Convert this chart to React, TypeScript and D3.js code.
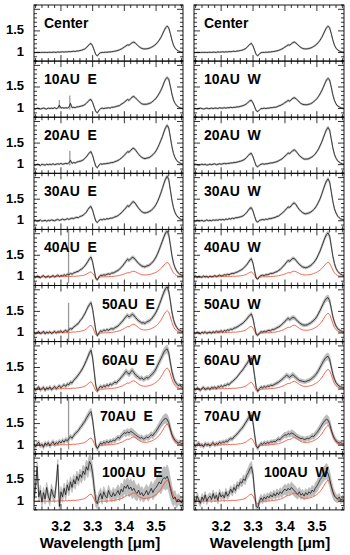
import React from "react";
import * as d3 from "d3";

// ---------- data ----------
const WL_START = 3.115;
const WL_STEP = 0.005;
const N_PTS = 95;
const WAVELENGTH: number[] = d3.range(N_PTS).map((i) => +(WL_START + i * WL_STEP).toFixed(3));

const X_MAJOR_TICKS = [3.2, 3.3, 3.4, 3.5];
const Y_LABEL_TICKS = [1, 1.5];

const CENTER = [
  1.0, 0.997, 1.002, 1.0, 0.998, 1.003, 1.0, 1.004, 0.999, 1.002,
  1.006, 1.0, 1.008, 1.004, 1.002, 1.012, 1.006, 1.01, 1.016, 1.008,
  1.018, 1.012, 1.022, 1.016, 1.024, 1.028, 1.022, 1.034, 1.036, 1.044,
  1.052, 1.066, 1.082, 1.11, 1.15, 1.19, 1.21, 1.15, 1.05, 0.95,
  0.92, 0.97, 0.995, 1.002, 1.0, 1.006, 1.004, 1.01, 1.012, 1.018,
  1.022, 1.03, 1.038, 1.048, 1.062, 1.08, 1.1, 1.125, 1.15, 1.175,
  1.17, 1.2, 1.23, 1.24, 1.215, 1.18, 1.145, 1.115, 1.095, 1.085,
  1.082, 1.085, 1.092, 1.102, 1.118, 1.14, 1.165, 1.195, 1.235, 1.285,
  1.345, 1.42, 1.5, 1.57, 1.61, 1.57, 1.44, 1.29, 1.17, 1.1,
  1.06, 1.035, 1.02, 1.01, 1.005,
];

const AU10_E = [
  1.0, 0.99, 1.01, 1.0, 0.99, 1.0, 1.01, 1.0, 0.99, 1.01,
  1.0, 1.01, 1.0, 1.02, 1.0, 1.01, 1.08, 1.01, 1.02, 1.01,
  1.02, 1.01, 1.03, 1.12, 1.02, 1.03, 1.02, 1.04, 1.04, 1.05,
  1.06, 1.07, 1.09, 1.12, 1.16, 1.2, 1.21, 1.14, 1.03, 0.93,
  0.9, 0.96, 1.0, 1.01, 1.0, 1.01, 1.01, 1.02, 1.01, 1.03,
  1.03, 1.04, 1.05, 1.06, 1.07, 1.1, 1.12, 1.15, 1.18, 1.21,
  1.19, 1.23, 1.27, 1.28, 1.25, 1.21, 1.17, 1.14, 1.11, 1.1,
  1.1, 1.1, 1.11, 1.12, 1.14, 1.17, 1.2, 1.24, 1.29, 1.35,
  1.42, 1.5, 1.6, 1.68, 1.72, 1.68, 1.52, 1.34, 1.2, 1.12,
  1.07, 1.04, 1.02, 1.01, 1.0,
];
const AU10_W = [
  1.0, 1.0, 0.99, 1.0, 1.01, 1.0, 0.99, 1.0, 1.01, 1.0,
  1.0, 1.01, 1.0, 1.01, 1.01, 1.0, 1.02, 1.01, 1.01, 1.02,
  1.01, 1.02, 1.02, 1.03, 1.02, 1.03, 1.03, 1.04, 1.04, 1.05,
  1.06, 1.07, 1.09, 1.11, 1.15, 1.18, 1.19, 1.13, 1.04, 0.95,
  0.93, 0.97, 1.0, 1.0, 1.01, 1.0, 1.01, 1.01, 1.02, 1.02,
  1.03, 1.03, 1.04, 1.06, 1.07, 1.09, 1.11, 1.14, 1.16, 1.19,
  1.17, 1.21, 1.24, 1.25, 1.23, 1.19, 1.15, 1.12, 1.1, 1.09,
  1.09, 1.09, 1.1, 1.11, 1.13, 1.16, 1.19, 1.23, 1.28, 1.34,
  1.41, 1.49, 1.58, 1.66, 1.7, 1.66, 1.5, 1.32, 1.19, 1.11,
  1.06, 1.04, 1.02, 1.01, 1.0,
];
const AU20_E = [
  1.0, 0.99, 1.01, 1.0, 0.98, 1.01, 1.0, 0.99, 1.01, 1.0,
  1.01, 1.0, 1.02, 1.0, 1.01, 1.02, 1.01, 1.03, 1.01, 1.02,
  1.03, 1.02, 1.04, 1.1, 1.03, 1.05, 1.04, 1.06, 1.07, 1.08,
  1.09, 1.11, 1.14, 1.18, 1.23, 1.28, 1.3, 1.21, 1.08, 0.96,
  0.93, 0.99, 1.02, 1.01, 1.02, 1.02, 1.03, 1.03, 1.04, 1.05,
  1.05, 1.07, 1.08, 1.1, 1.12, 1.15, 1.18, 1.22, 1.26, 1.3,
  1.29, 1.33, 1.37, 1.38, 1.34, 1.29, 1.24, 1.2, 1.17, 1.15,
  1.14, 1.15, 1.16, 1.17, 1.2, 1.23, 1.27, 1.32, 1.39, 1.47,
  1.56, 1.65, 1.76, 1.86, 1.91, 1.85, 1.64, 1.42, 1.26, 1.16,
  1.1, 1.06, 1.04, 1.02, 1.01,
];
const AU20_W = [
  1.0, 1.01, 1.0, 0.99, 1.0, 1.01, 1.0, 1.01, 0.99, 1.0,
  1.01, 1.0, 1.01, 1.02, 1.0, 1.01, 1.02, 1.01, 1.02, 1.03,
  1.02, 1.03, 1.03, 1.04, 1.04, 1.05, 1.05, 1.06, 1.07, 1.08,
  1.09, 1.11, 1.13, 1.17, 1.21, 1.25, 1.26, 1.18, 1.07, 0.97,
  0.95, 0.99, 1.01, 1.02, 1.01, 1.02, 1.02, 1.03, 1.04, 1.04,
  1.05, 1.06, 1.07, 1.09, 1.11, 1.13, 1.16, 1.2, 1.23, 1.27,
  1.26, 1.29, 1.33, 1.34, 1.31, 1.26, 1.21, 1.18, 1.15, 1.13,
  1.13, 1.13, 1.14, 1.16, 1.18, 1.21, 1.25, 1.3, 1.36, 1.44,
  1.52, 1.62, 1.72, 1.81, 1.86, 1.8, 1.6, 1.39, 1.24, 1.15,
  1.09, 1.06, 1.03, 1.02, 1.01,
];
const AU30_E = [
  1.0, 1.01, 0.99, 1.0, 1.02, 0.99, 1.0, 1.01, 0.99, 1.01,
  1.0, 1.02, 1.01, 1.0, 1.02, 1.03, 1.01, 1.02, 1.04, 1.02,
  1.03, 1.05, 1.03, 1.05, 1.06, 1.05, 1.07, 1.08, 1.07, 1.1,
  1.11, 1.13, 1.16, 1.2, 1.26, 1.31, 1.33, 1.24, 1.11, 0.99,
  0.96, 1.01, 1.03, 1.02, 1.04, 1.03, 1.05, 1.04, 1.06, 1.06,
  1.07, 1.09, 1.1, 1.12, 1.15, 1.18, 1.22, 1.26, 1.3, 1.35,
  1.33, 1.38, 1.43, 1.44, 1.4, 1.34, 1.29, 1.25, 1.21, 1.19,
  1.18, 1.19, 1.2, 1.22, 1.24, 1.28, 1.32, 1.38, 1.45, 1.54,
  1.64, 1.75, 1.87, 1.97, 2.03, 1.96, 1.72, 1.48, 1.3, 1.19,
  1.12, 1.08, 1.05, 1.03, 1.02,
];
const AU30_W = [
  1.0, 0.99, 1.01, 1.0, 1.0, 1.01, 0.99, 1.0, 1.02, 1.0,
  1.01, 1.0, 1.02, 1.01, 1.02, 1.01, 1.03, 1.02, 1.03, 1.02,
  1.04, 1.03, 1.05, 1.04, 1.06, 1.05, 1.07, 1.07, 1.08, 1.09,
  1.1, 1.12, 1.15, 1.19, 1.24, 1.29, 1.3, 1.22, 1.1, 0.99,
  0.97, 1.01, 1.02, 1.03, 1.02, 1.04, 1.03, 1.05, 1.05, 1.06,
  1.07, 1.08, 1.1, 1.11, 1.14, 1.17, 1.2, 1.24, 1.28, 1.32,
  1.31, 1.35, 1.4, 1.41, 1.37, 1.31, 1.26, 1.22, 1.19, 1.17,
  1.16, 1.17, 1.18, 1.2, 1.22, 1.26, 1.3, 1.36, 1.43, 1.51,
  1.61, 1.72, 1.83, 1.92, 1.97, 1.9, 1.68, 1.45, 1.28, 1.18,
  1.11, 1.07, 1.04, 1.03, 1.02,
];
const AU40_E = [
  1.01, 0.99, 1.02, 1.0, 0.98, 1.01, 1.03, 0.99, 1.0, 1.02,
  0.99, 1.01, 1.03, 1.0, 1.02, 1.04, 1.01, 1.03, 1.02, 1.05,
  1.03, 1.06, 1.05, 1.08, 1.06, 1.09, 1.1, 1.12, 1.13, 1.16,
  1.18, 1.21, 1.25, 1.3, 1.36, 1.42, 1.46, 1.34, 1.15, 0.96,
  0.93, 1.0, 1.04, 1.03, 1.05, 1.04, 1.06, 1.07, 1.06, 1.09,
  1.09, 1.11, 1.13, 1.15, 1.18, 1.22, 1.26, 1.31, 1.36, 1.41,
  1.38, 1.42, 1.45, 1.44, 1.4, 1.35, 1.31, 1.28, 1.25, 1.24,
  1.23, 1.25, 1.26, 1.28, 1.31, 1.35, 1.4, 1.46, 1.54, 1.63,
  1.73, 1.83, 1.93, 2.02, 2.06, 1.98, 1.75, 1.5, 1.32, 1.21,
  1.14, 1.09, 1.06, 1.04, 1.03,
];
const AU40_W = [
  1.0, 1.02, 0.99, 1.01, 1.0, 0.99, 1.02, 1.0, 1.01, 0.99,
  1.02, 1.0, 1.01, 1.03, 1.01, 1.02, 1.04, 1.02, 1.03, 1.05,
  1.04, 1.06, 1.05, 1.07, 1.08, 1.08, 1.1, 1.11, 1.13, 1.15,
  1.17, 1.2, 1.24, 1.28, 1.33, 1.39, 1.42, 1.31, 1.13, 0.97,
  0.95, 1.01, 1.03, 1.04, 1.03, 1.05, 1.05, 1.06, 1.08, 1.08,
  1.09, 1.11, 1.12, 1.15, 1.17, 1.21, 1.25, 1.29, 1.34, 1.38,
  1.36, 1.4, 1.43, 1.42, 1.38, 1.33, 1.29, 1.26, 1.23, 1.22,
  1.21, 1.22, 1.24, 1.26, 1.29, 1.33, 1.38, 1.44, 1.52, 1.6,
  1.7, 1.8, 1.9, 1.98, 2.02, 1.94, 1.72, 1.48, 1.31, 1.2,
  1.13, 1.09, 1.06, 1.04, 1.03,
];
const AU50_E = [
  1.02, 0.98, 1.01, 1.03, 0.99, 1.0, 1.04, 0.98, 1.02, 1.0,
  1.03, 0.99, 1.01, 1.04, 1.0, 1.03, 1.02, 1.05, 1.01, 1.04,
  1.06, 1.03, 1.08, 1.1, 1.09, 1.14, 1.16, 1.2, 1.22, 1.28,
  1.32, 1.38, 1.44, 1.52, 1.6, 1.66, 1.7, 1.55, 1.3, 1.05,
  0.94, 1.0, 1.05, 1.03, 1.07, 1.05, 1.08, 1.06, 1.09, 1.1,
  1.09, 1.12, 1.14, 1.16, 1.2, 1.24, 1.28, 1.33, 1.38, 1.41,
  1.37, 1.4, 1.43, 1.41, 1.36, 1.32, 1.28, 1.26, 1.23, 1.24,
  1.22, 1.25, 1.27, 1.29, 1.32, 1.37, 1.42, 1.48, 1.56, 1.65,
  1.75, 1.85, 1.95, 2.03, 2.07, 1.97, 1.74, 1.49, 1.31, 1.2,
  1.13, 1.08, 1.06, 1.04, 1.03,
];
const AU50_W = [
  1.01, 0.99, 1.02, 1.0, 0.98, 1.02, 1.0, 1.03, 0.99, 1.01,
  1.02, 1.0, 1.03, 1.01, 1.04, 1.02, 1.03, 1.05, 1.02, 1.06,
  1.04, 1.07, 1.06, 1.09, 1.08, 1.11, 1.12, 1.14, 1.16, 1.19,
  1.21, 1.24, 1.28, 1.32, 1.37, 1.41, 1.44, 1.33, 1.14, 0.97,
  0.95, 1.0, 1.03, 1.02, 1.04, 1.03, 1.05, 1.06, 1.05, 1.08,
  1.08, 1.1, 1.12, 1.14, 1.16, 1.2, 1.23, 1.27, 1.31, 1.34,
  1.31, 1.34, 1.36, 1.35, 1.31, 1.27, 1.24, 1.21, 1.19, 1.18,
  1.18, 1.19, 1.21, 1.23, 1.26, 1.29, 1.33, 1.38, 1.45, 1.52,
  1.6, 1.68, 1.75, 1.8, 1.82, 1.75, 1.57, 1.38, 1.25, 1.16,
  1.1, 1.07, 1.05, 1.03, 1.02,
];
const AU60_E = [
  1.03, 0.97, 1.02, 1.05, 0.98, 1.01, 1.04, 0.97, 1.03, 1.0,
  1.05, 0.99, 1.02, 1.06, 1.01, 1.04, 1.08, 1.03, 1.07, 1.1,
  1.06, 1.12, 1.1, 1.16, 1.14, 1.2, 1.24, 1.28, 1.33, 1.38,
  1.44, 1.5, 1.58, 1.66, 1.75, 1.84, 1.9, 1.72, 1.4, 1.08,
  0.96, 1.02, 1.07, 1.03, 1.08, 1.05, 1.1, 1.07, 1.12, 1.1,
  1.13, 1.16, 1.14, 1.19, 1.22, 1.27, 1.31, 1.36, 1.41, 1.38,
  1.34, 1.4, 1.43, 1.38, 1.33, 1.3, 1.27, 1.24, 1.26, 1.22,
  1.24, 1.27, 1.25, 1.29, 1.33, 1.36, 1.41, 1.47, 1.55, 1.63,
  1.7, 1.78, 1.86, 1.91, 1.93, 1.84, 1.62, 1.41, 1.27, 1.17,
  1.12, 1.08, 1.1, 1.05, 1.04,
];
const AU60_W = [
  1.02, 0.98, 1.03, 1.0, 0.97, 1.02, 1.04, 0.99, 1.01, 1.03,
  0.99, 1.04, 1.02, 1.05, 1.01, 1.06, 1.04, 1.08, 1.05, 1.09,
  1.08, 1.12, 1.1, 1.15, 1.17, 1.21, 1.24, 1.28, 1.33, 1.38,
  1.42, 1.47, 1.53, 1.58, 1.64, 1.69, 1.72, 1.56, 1.3, 1.03,
  0.95, 1.01, 1.05, 1.03, 1.06, 1.04, 1.07, 1.06, 1.09, 1.08,
  1.1, 1.12, 1.14, 1.16, 1.19, 1.22, 1.25, 1.29, 1.32, 1.3,
  1.27, 1.31, 1.33, 1.3, 1.26, 1.23, 1.2, 1.19, 1.18, 1.17,
  1.17, 1.19, 1.2, 1.22, 1.25, 1.28, 1.32, 1.37, 1.43, 1.5,
  1.57, 1.64, 1.7, 1.74, 1.76, 1.69, 1.52, 1.35, 1.23, 1.15,
  1.1, 1.07, 1.05, 1.04, 1.03,
];
const AU70_E = [
  1.04, 0.96, 1.03, 1.07, 0.98, 1.02, 0.95, 1.05, 1.0, 1.06,
  0.98, 1.04, 1.08, 1.01, 1.06, 1.03, 1.09, 1.05, 1.11, 1.07,
  1.13, 1.1, 1.15, 1.2, 1.16, 1.22, 1.27, 1.3, 1.34, 1.4,
  1.44, 1.5, 1.55, 1.62, 1.68, 1.74, 1.78, 1.58, 1.28, 1.0,
  0.92, 0.99, 1.05, 1.02, 1.07, 1.04, 1.09, 1.05, 1.1, 1.08,
  1.12, 1.1, 1.15, 1.18, 1.16, 1.22, 1.25, 1.29, 1.27, 1.31,
  1.28, 1.32, 1.3, 1.27, 1.24, 1.21, 1.19, 1.16, 1.18, 1.14,
  1.16, 1.19, 1.17, 1.21, 1.24, 1.22, 1.28, 1.32, 1.38, 1.44,
  1.5, 1.55, 1.6, 1.62, 1.6, 1.52, 1.38, 1.25, 1.17, 1.11,
  1.08, 1.05, 1.07, 1.03, 1.04,
];
const AU70_W = [
  1.03, 0.97, 1.02, 1.05, 0.99, 1.01, 0.96, 1.04, 1.0, 1.03,
  0.98, 1.03, 1.06, 1.0, 1.04, 1.02, 1.07, 1.04, 1.08, 1.06,
  1.1, 1.08, 1.13, 1.15, 1.14, 1.19, 1.22, 1.26, 1.3, 1.35,
  1.39, 1.44, 1.5, 1.56, 1.62, 1.67, 1.7, 1.52, 1.24, 0.99,
  0.93, 1.0, 1.04, 1.02, 1.06, 1.03, 1.07, 1.04, 1.08, 1.07,
  1.09, 1.08, 1.12, 1.14, 1.13, 1.18, 1.21, 1.24, 1.23, 1.27,
  1.25, 1.28, 1.27, 1.24, 1.21, 1.19, 1.17, 1.15, 1.16, 1.13,
  1.14, 1.16, 1.15, 1.18, 1.21, 1.2, 1.25, 1.29, 1.34, 1.4,
  1.46, 1.52, 1.57, 1.6, 1.58, 1.5, 1.36, 1.24, 1.16, 1.1,
  1.07, 1.05, 1.06, 1.03, 1.03,
];
const AU100_E = [
  1.05, 1.35, 1.8, 1.1, 1.25, 0.98, 1.2, 1.05, 1.32, 1.12,
  1.02, 1.28, 1.15, 1.08, 1.4, 1.85, 0.88, 1.22, 1.1, 1.3,
  1.15, 1.38, 1.25, 1.45, 1.32, 1.5, 1.4, 1.58, 1.48, 1.62,
  1.55, 1.7, 1.62, 1.8, 1.72, 1.92, 1.85, 1.65, 1.3, 1.02,
  0.95, 1.1, 1.18, 1.05, 1.22, 1.12, 1.08, 1.25, 1.15, 1.1,
  1.2, 1.12, 1.18, 1.25, 1.15, 1.28, 1.22, 1.35, 1.3, 1.38,
  1.28, 1.33, 1.25, 1.3, 1.22, 1.18, 1.26, 1.15, 1.2, 1.12,
  1.18, 1.25, 1.15, 1.22, 1.3, 1.2, 1.28, 1.32, 1.38, 1.45,
  1.4, 1.5, 1.55, 1.52, 1.58, 1.48, 1.3, 1.15, 1.05, 1.1,
  0.98, 1.05, 1.02, 0.96, 1.04,
];
const AU100_W = [
  1.08, 0.98, 1.12, 1.03, 0.95, 1.1, 1.02, 1.15, 1.0, 1.08,
  1.12, 1.04, 1.18, 1.06, 1.14, 1.02, 1.2, 1.1, 1.15, 1.08,
  1.22, 1.12, 1.18, 1.28, 1.2, 1.32, 1.25, 1.38, 1.35, 1.45,
  1.42, 1.52, 1.48, 1.6, 1.66, 1.75, 1.8, 1.62, 1.2, 0.88,
  0.85, 1.0, 1.08, 1.02, 1.1, 1.05, 1.12, 1.08, 1.15, 1.1,
  1.18, 1.12, 1.2, 1.15, 1.22, 1.18, 1.25, 1.28, 1.24, 1.3,
  1.26, 1.32, 1.28, 1.24, 1.2, 1.16, 1.22, 1.14, 1.18, 1.12,
  1.2, 1.15, 1.22, 1.18, 1.26, 1.22, 1.3, 1.35, 1.42, 1.5,
  1.55, 1.62, 1.66, 1.7, 1.64, 1.52, 1.35, 1.22, 1.12, 1.08,
  1.05, 1.1, 1.02, 1.06, 1.0,
];

// relative profile of the grey uncertainty band
const ERR_PROFILE = [
  1, 1, 1, 1, 1, 1, 1, 1, 1, 1,
  1, 1, 1, 1, 1, 1, 1, 1, 1, 1,
  1, 1, 1, 1, 1, 1, 1, 1, 1, 1.05,
  1.1, 1.15, 1.2, 1.3, 1.4, 1.5, 1.5, 1.4, 1.3, 1.2,
  1.1, 1, 1, 1, 1, 1, 1, 1, 1, 1,
  1, 1.05, 1.1, 1.1, 1.15, 1.2, 1.3, 1.4, 1.5, 1.5,
  1.5, 1.6, 1.6, 1.6, 1.5, 1.4, 1.3, 1.25, 1.2, 1.2,
  1.2, 1.2, 1.25, 1.3, 1.35, 1.4, 1.5, 1.6, 1.7, 1.8,
  1.9, 2.0, 2.1, 2.2, 2.2, 2.1, 1.9, 1.6, 1.4, 1.2,
  1.1, 1.05, 1, 1, 1,
];

const LABELS_E = ["Center", "10AU  E", "20AU  E", "30AU  E", "40AU  E", "50AU  E", "60AU  E", "70AU  E", "100AU  E"];
const LABELS_W = ["Center", "10AU  W", "20AU  W", "30AU  W", "40AU  W", "50AU  W", "60AU  W", "70AU  W", "100AU  W"];
const SPECTRA_E = [CENTER, AU10_E, AU20_E, AU30_E, AU40_E, AU50_E, AU60_E, AU70_E, AU100_E];
const SPECTRA_W = [CENTER, AU10_W, AU20_W, AU30_W, AU40_W, AU50_W, AU60_W, AU70_W, AU100_W];
const ERR_E = [0.012, 0.014, 0.016, 0.018, 0.024, 0.03, 0.04, 0.05, 0.12];
const ERR_W = [0.012, 0.014, 0.016, 0.018, 0.022, 0.028, 0.035, 0.045, 0.08];
// scale of the central spectrum shown as the red reference (0 = not shown)
const RED_SCALE_E = [0, 0, 0, 0, 0.55, 0.85, 0.8, 0.8, 0.8];
const RED_SCALE_W = [0, 0, 0, 0, 0.55, 0.75, 0.75, 0.75, 0.8];
// bad-pixel error spikes: [row, column (0=E,1=W), wavelength, low, high]
const SPIKES: [number, number, number, number, number][] = [
  [1, 0, 3.195, 1.0, 1.2],
  [1, 0, 3.228, 0.98, 1.3],
  [2, 0, 3.228, 0.98, 1.32],
  [4, 0, 3.224, 0.85, 2.1],
  [5, 0, 3.224, 0.8, 1.7],
  [7, 0, 3.224, 0.9, 2.1],
];

// ---------- layout ----------
const W = 350;
const H = 555;
const COLS = [
  { x0: 34, x1: 183 },
  { x0: 194, x1: 344 },
];
const TOP = 5;
const ROW_H = 56.1;
const X_DOMAIN: [number, number] = [3.115, 3.585];
const Y_DOMAIN: [number, number] = [0.8, 2.1];
const FONT = "'Liberation Sans', Arial, Helvetica, sans-serif";
const LABEL_X_E = [10, 10, 10, 10, 10, 68, 68, 66, 68];
const LABEL_X_W = [10, 10, 10, 10, 10, 10, 10, 10, 70];

function Panel(props: {
  row: number;
  col: number;
  data: number[];
  err: number;
  red: number;
  label: string;
  labelDx: number;
  showX: boolean;
  showY: boolean;
}) {
  const { row, col, data, err, red, label, labelDx, showX, showY } = props;
  const { x0, x1 } = COLS[col];
  const y0 = TOP + row * ROW_H;
  const y1 = y0 + ROW_H;
  const xs = d3.scaleLinear().domain(X_DOMAIN).range([x0, x1]);
  const ys = d3.scaleLinear().domain(Y_DOMAIN).range([y1, y0]);
  const clipId = `clip-${row}-${col}`;

  const line = d3
    .line<number>()
    .x((_, i) => xs(WAVELENGTH[i]))
    .y((d) => ys(d));
  const area = d3
    .area<number>()
    .x((_, i) => xs(WAVELENGTH[i]))
    .y0((d, i) => ys(d - err * ERR_PROFILE[i]))
    .y1((d, i) => ys(d + err * ERR_PROFILE[i]));
  const redData = red > 0 ? CENTER.map((c) => 1 + red * (c - 1)) : null;

  const xMinor = d3.range(3.12, 3.5801, 0.02).map((v) => +v.toFixed(3));
  const yMinor = d3.range(0.8, 2.1001, 0.1).map((v) => +v.toFixed(2));
  const yMajor = [1, 1.5, 2];
  const spikes = SPIKES.filter((s) => s[0] === row && s[1] === col);

  return (
    <g>
      <defs>
        <clipPath id={clipId}>
          <rect x={x0} y={y0} width={x1 - x0} height={y1 - y0} />
        </clipPath>
      </defs>
      <g clipPath={`url(#${clipId})`}>
        <path d={area(data) || ""} fill="#bdbdbd" stroke="#bdbdbd" strokeWidth={0.8} />
        {spikes.map((s, k) => (
          <line key={k} x1={xs(s[2])} x2={xs(s[2])} y1={ys(s[3])} y2={ys(s[4])} stroke="#9a9a9a" strokeWidth={1.3} />
        ))}
        {redData && <path d={line(redData) || ""} fill="none" stroke="#f2583e" strokeWidth={0.9} />}
        <path d={line(data) || ""} fill="none" stroke="#1a1a1a" strokeWidth={0.8} />
      </g>
      <rect x={x0} y={y0} width={x1 - x0} height={y1 - y0} fill="none" stroke="#000" strokeWidth={0.9} />
      {xMinor.map((v) => {
        const major = X_MAJOR_TICKS.some((m) => Math.abs(m - v) < 1e-6);
        const len = major ? 6 : 3;
        const x = xs(v);
        return (
          <g key={`x${v}`}>
            <line x1={x} x2={x} y1={y1} y2={y1 - len} stroke="#000" strokeWidth={0.8} />
            <line x1={x} x2={x} y1={y0} y2={y0 + len} stroke="#000" strokeWidth={0.8} />
          </g>
        );
      })}
      {yMinor.map((v) => {
        const major = yMajor.some((m) => Math.abs(m - v) < 1e-6);
        const len = major ? 6 : 3;
        const y = ys(v);
        return (
          <g key={`y${v}`}>
            <line x1={x0} x2={x0 + len} y1={y} y2={y} stroke="#000" strokeWidth={0.8} />
            <line x1={x1} x2={x1 - len} y1={y} y2={y} stroke="#000" strokeWidth={0.8} />
          </g>
        );
      })}
      {showY &&
        Y_LABEL_TICKS.map((v) => (
          <text key={`yl${v}`} x={x0 - 10} y={ys(v) + 3.5} textAnchor="end" fontFamily={FONT} fontWeight="bold" fontSize={13} fill="#000">
            {String(v)}
          </text>
        ))}
      {showX &&
        X_MAJOR_TICKS.map((v) => (
          <text key={`xl${v}`} x={xs(v)} y={y1 + 21} textAnchor="middle" fontFamily={FONT} fontWeight="bold" fontSize={14} fill="#000">
            {v.toFixed(1)}
          </text>
        ))}
      <text
        x={x0 + labelDx}
        y={y0 + 23}
        fontFamily={FONT}
        fontWeight="bold"
        fontSize={14}
        fill="#000"
        style={{ whiteSpace: "pre" }}
      >
        {label}
      </text>
    </g>
  );
}

export default function App() {
  const rows = d3.range(9);
  const bottom = TOP + 9 * ROW_H;
  return (
    <div style={{ position: "absolute", left: 0, top: 0 }}>
      <svg width={W} height={H} viewBox={`0 0 ${W} ${H}`} style={{ display: "block", background: "#fff" }}>
        <rect x={0} y={0} width={W} height={H} fill="#fff" />
        {rows.map((r) => (
          <Panel
            key={`e${r}`}
            row={r}
            col={0}
            data={SPECTRA_E[r]}
            err={ERR_E[r]}
            red={RED_SCALE_E[r]}
            label={LABELS_E[r]}
            labelDx={LABEL_X_E[r]}
            showX={r === 8}
            showY={true}
          />
        ))}
        {rows.map((r) => (
          <Panel
            key={`w${r}`}
            row={r}
            col={1}
            data={SPECTRA_W[r]}
            err={ERR_W[r]}
            red={RED_SCALE_W[r]}
            label={LABELS_W[r]}
            labelDx={LABEL_X_W[r]}
            showX={r === 8}
            showY={false}
          />
        ))}
        <text x={100} y={bottom + 38} textAnchor="middle" fontFamily={FONT} fontWeight="bold" fontSize={15} fill="#000">
          Wavelength [μm]
        </text>
        <text x={270} y={bottom + 38} textAnchor="middle" fontFamily={FONT} fontWeight="bold" fontSize={15} fill="#000">
          Wavelength [μm]
        </text>
      </svg>
    </div>
  );
}
